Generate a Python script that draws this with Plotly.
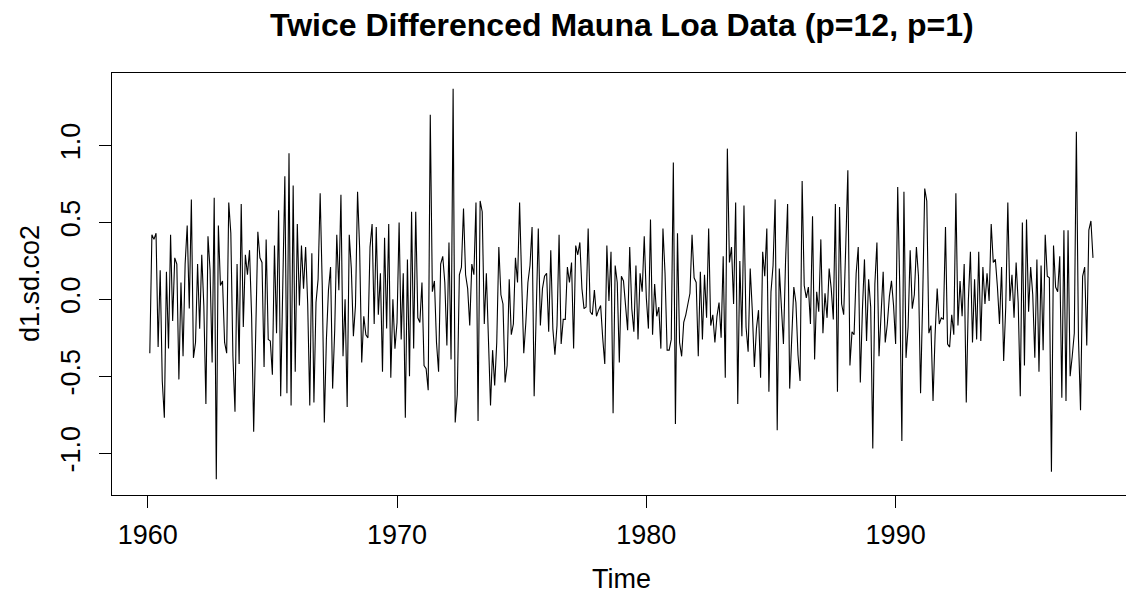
import plotly.graph_objects as go

# Twice differenced Mauna Loa CO2 (seasonal lag 12, then lag 1), monthly from Feb 1960
start_year = 1960
start_month = 2  # February
freq = 12

vals_1960s = [
    -0.35, 0.42, 0.39, 0.43, -0.31, 0.19, -0.53, -0.77, 0.18, -0.32, 0.42,
    -0.14, 0.27, 0.23, -0.52, 0.11, -0.37, 0.23, 0.48, -0.06, 0.65, -0.38, -0.28,
    0.23, -0.19, 0.29, -0.04, -0.68, 0.41, 0.19, -0.41, 0.66, -1.17, 0.48, 0.09,
    0.12, -0.28, -0.35, 0.63, 0.43, -0.37, -0.73, 0.23, -0.42, 0.62, -0.18, 0.29,
    0.16, 0.32, -0.11, -0.86, -0.20, 0.44, 0.27, 0.24, -0.44, 0.39, -0.26, -0.27,
    -0.49, 0.35, -0.22, 0.58, -0.63, 0.04, 0.80, -0.61, 0.95, -0.69, 0.74, -0.47,
    0.49, -0.04, 0.35, 0.07, 0.34, -0.03, -0.69, 0.30, -0.67, -0.02, 0.13, 0.69,
    0.09, -0.80, -0.26, 0.06, 0.21, -0.58, -0.20, 0.42, 0.06, 0.68, -0.37, 0.00,
    -0.70, 0.42, 0.20, -0.24, -0.04, 0.70, 0.33, -0.41, -0.11, -0.23, -0.25, 0.34,
    0.49, -0.16, 0.47, -0.10, 0.17, -0.47, 0.40, -0.19, 0.49, -0.51, 0.00, -0.32,
]
vals_1970s = [
    -0.15, 0.50, -0.26, 0.17, -0.77, 0.26, -0.50, 0.57, -0.32, 0.57, -0.12, -0.15,
    0.11, -0.43, -0.45, -0.59, 1.20, 0.05, 0.12, -0.28, -0.47, 0.23, 0.28, 0.11,
    -0.30, 0.37, -0.39, 1.37, -0.80, -0.62, 0.16, 0.21, 0.59, 0.16, 0.07, -0.17,
    0.23, 0.16, 0.63, -0.79, 0.64, 0.57, -0.16, 0.17, -0.32, -0.69, -0.33, -0.56,
    -0.28, 0.34, 0.03, -0.03, -0.54, -0.43, 0.13, -0.23, -0.16, 0.27, 0.11, 0.63,
    0.12, -0.35, -0.15, 0.11, 0.22, 0.47, -0.63, -0.05, 0.46, -0.17, 0.07, 0.15,
    0.17, -0.21, 0.32, -0.19, -0.36, -0.17, 0.42, -0.29, -0.13, -0.13, 0.21, 0.11,
    0.24, -0.32, 0.35, 0.29, 0.37, 0.07, -0.06, -0.05, 0.46, -0.08, -0.10, 0.06,
    -0.11, -0.07, -0.04, -0.25, -0.42, 0.35, -0.01, 0.31, -0.74, 0.22, 0.11, -0.41,
    0.15, 0.12, -0.05, -0.20, 0.34, -0.06, -0.21, 0.22, -0.26, 0.17, 0.05, 0.41,
]
vals_1980s = [
    0.01, -0.19, 0.52, -0.23, 0.10, -0.11, -0.05, -0.32, 0.46, 0.17, -0.33, -0.33,
    -0.26, 0.89, -0.81, 0.43, -0.28, -0.37, -0.15, -0.10, -0.03, 0.04, 0.42, 0.14,
    0.11, -0.37, 0.18, -0.26, 0.16, -0.12, 0.46, -0.17, -0.10, -0.28, -0.11, -0.02,
    -0.25, 0.28, -0.51, 0.98, 0.24, 0.34, -0.03, 0.63, -0.68, 0.25, -0.24, 0.61,
    -0.18, -0.34, 0.20, -0.07, -0.44, -0.19, -0.07, -0.51, 0.31, 0.15, 0.46, -0.60,
    0.05, 0.22, 0.65, -0.85, 0.20, -0.04, -0.29, 0.24, 0.62, -0.58, -0.18, 0.08,
    -0.02, -0.36, -0.53, 0.77, 0.09, 0.01, 0.08, -0.16, 0.54, -0.39, 0.05, -0.08,
    0.39, -0.22, 0.04, -0.12, 0.20, 0.07, -0.13, 0.62, -0.60, 0.60, -0.03, -0.10,
    0.35, 0.84, -0.43, -0.21, -0.23, 0.17, 0.34, -0.54, -0.07, 0.26, -0.27, 0.13,
    -0.05, -0.97, 0.10, 0.37, -0.37, -0.13, 0.18, -0.28, -0.16, 0.02, 0.12, -0.04,
]
vals_1990s = [
    -0.29, 0.73, 0.07, -0.92, 0.70, -0.38, -0.18, 0.32, -0.06, 0.03, 0.34, 0.15,
    -0.61, -0.01, 0.72, 0.64, -0.22, -0.17, -0.66, -0.23, 0.07, -0.16, -0.12, -0.13,
    0.47, -0.29, -0.31, -0.10, -0.23, 0.69, -0.17, 0.12, -0.11, 0.23, -0.67, -0.01,
    0.31, -0.28, 0.13, -0.26, 0.31, -0.27, 0.21, -0.03, 0.17, -0.01, 0.49, 0.24,
    0.26, 0.08, -0.16, 0.21, -0.40, -0.05, 0.63, -0.01, 0.16, -0.12, 0.24, -0.02,
    -0.63, 0.50, -0.43, 0.52, -0.08, 0.21, 0.03, -0.38, 0.26, -0.47, 0.22, -0.33,
    0.42, 0.15, 0.14, -1.12, 0.35, 0.08, 0.05, 0.28, -0.64, 0.45, -0.66, 0.45,
    -0.50, -0.37, -0.22, 1.09, -0.25, -0.72, 0.15, 0.21, -0.30, 0.45, 0.51, 0.27,
]

x_tick_vals = [1960, 1970, 1980, 1990]
x_tick_text = ["1960", "1970", "1980", "1990"]
y_tick_vals = [-1.0, -0.5, 0.0, 0.5, 1.0]
y_tick_text = ["-1.0", "-0.5", "0.0", "0.5", "1.0"]

values = vals_1960s + vals_1970s + vals_1980s + vals_1990s
times = [start_year + (start_month - 1 + k) / freq for k in range(len(values))]

W, H = 1126, 596
L, R, T, B = 112, 0, 73, 101
FONT = "Liberation Sans, Arial, Helvetica, sans-serif"

fig = go.Figure()
fig.add_trace(go.Scatter(
    x=times, y=values, mode="lines",
    line=dict(color="black", width=1.1),
    hoverinfo="skip", showlegend=False,
))

x_lo = 1958.5667
px_per_year = 24.93
x_hi = x_lo + (W - L - R) / px_per_year

fig.update_layout(
    width=W, height=H,
    margin=dict(l=L, r=R, t=T, b=B, pad=0),
    paper_bgcolor="white", plot_bgcolor="white",
    font=dict(family=FONT, color="black", size=27),
    xaxis=dict(
        range=[x_lo, x_hi], showgrid=False, zeroline=False,
        showline=True, linecolor="black", linewidth=1, mirror=True,
        ticks="outside", ticklen=12, tickwidth=1, tickcolor="black",
        tickvals=x_tick_vals, ticktext=x_tick_text,
        tickfont=dict(family=FONT, size=27, color="black"),
        ticklabelstandoff=4,
    ),
    yaxis=dict(
        range=[-1.2716, 1.4716], showgrid=False, zeroline=False,
        showline=True, linecolor="black", linewidth=1, mirror=False,
        ticks="outside", ticklen=12, tickwidth=1, tickcolor="black",
        tickvals=y_tick_vals, ticktext=y_tick_text, tickangle=-90,
        tickfont=dict(family=FONT, size=27, color="black"),
        ticklabelstandoff=8,
    ),
    annotations=[
        dict(text="<b>Twice Differenced Mauna Loa Data (p=12, p=1)</b>",
             x=(621.7 - L) / (W - L - R), y=(H - B - 25) / (H - T - B),
             xref="paper", yref="paper", xanchor="center", yanchor="middle",
             showarrow=False, font=dict(family=FONT, size=32, color="black")),
        dict(text="Time",
             x=(621.7 - L) / (W - L - R), y=(H - B - 579) / (H - T - B),
             xref="paper", yref="paper", xanchor="center", yanchor="middle",
             showarrow=False, font=dict(family=FONT, size=27, color="black")),
        dict(text="d1.sd.co2", textangle=-90,
             x=(30 - L) / (W - L - R), y=0.5,
             xref="paper", yref="paper", xanchor="center", yanchor="middle",
             showarrow=False, font=dict(family=FONT, size=27, color="black")),
    ],
)

fig.write_html("out.html")
